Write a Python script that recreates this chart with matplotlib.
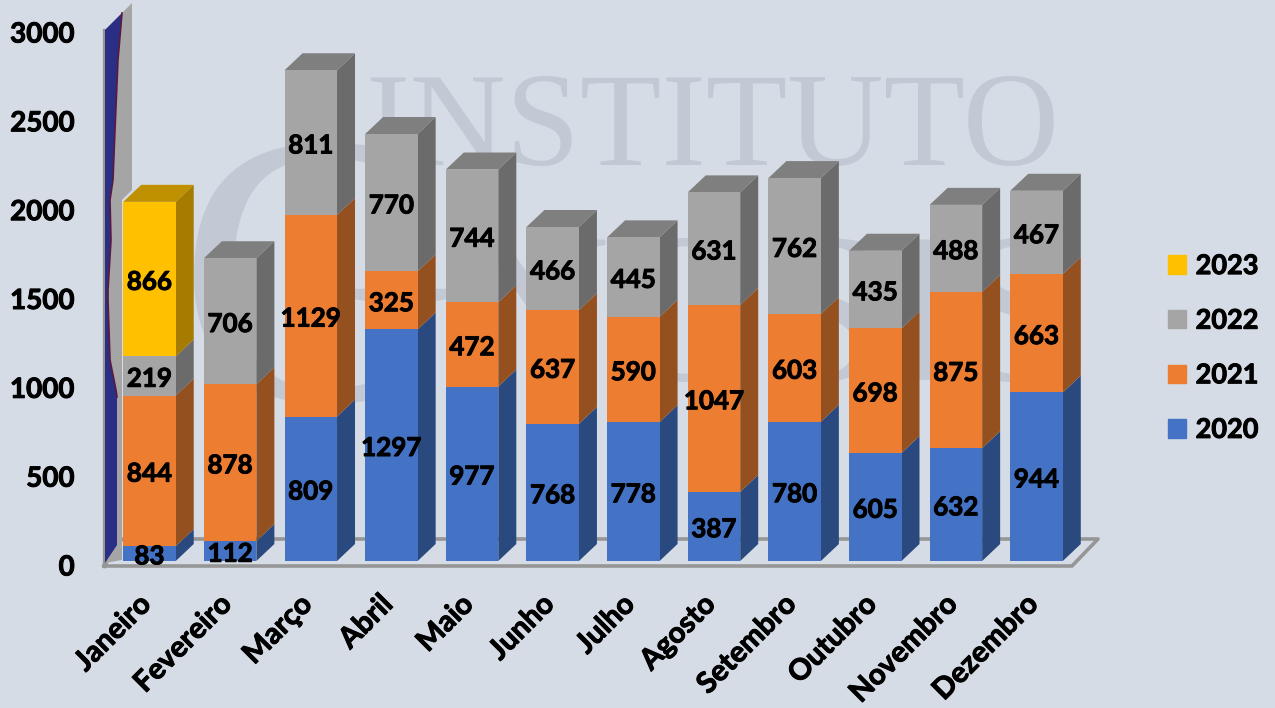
import numpy as np
import matplotlib
matplotlib.use("Agg")
import matplotlib.pyplot as plt
import matplotlib.patheffects as pe
from matplotlib.patches import Polygon, Patch
from matplotlib.transforms import Affine2D, ScaledTranslation

months = ["Janeiro","Fevereiro","Março","Abril","Maio","Junho","Julho","Agosto","Setembro","Outubro","Novembro","Dezembro"]
v2020 = [83,112,809,1297,977,768,778,387,780,605,632,944]
v2021 = [844,878,1129,325,472,637,590,1047,603,698,875,663]
v2022 = [219,706,811,770,744,466,445,631,762,435,488,467]
v2023 = [866,0,0,0,0,0,0,0,0,0,0,0]
series = [("2020",v2020),("2021",v2021),("2022",v2022),("2023",v2023)]
front = {"2020":"#4472c4","2021":"#ed7d31","2022":"#a5a5a5","2023":"#ffc000"}
side = {"2020":"#2a4a7f","2021":"#95501f","2022":"#6b6b6b","2023":"#a67c00"}
top = {"2020":"#365c9e","2021":"#be6427","2022":"#7f7f7f","2023":"#bf9000"}
yticks = [0,500,1000,1500,2000,2500,3000]

W,H = 1275,708
BG = "#d6dce5"
FONT = "Lato"
plt.rcParams["font.family"] = [FONT,"DejaVu Sans"]
plt.rcParams["font.weight"] = "bold"
fig = plt.figure(figsize=(W/100,H/100),dpi=100,facecolor=BG)
px = Affine2D().scale(1/W,-1/H).translate(0,1)+fig.transFigure
heavy = [pe.withStroke(linewidth=0.7,foreground="black")]

def rect(l,r,t,b):
    return [l/W,1-b/H,(r-l)/W,(b-t)/H]

# watermark behind everything
wm = "#c3c9d4"
fig.text(712/W,1-165/H,"INSTITUTO",color=wm,fontsize=96,family="Liberation Serif",weight="normal",ha="center",va="baseline",zorder=-2)
fig.text(178/W,1-400/H,"G",color=wm,fontsize=280,family="Liberation Serif",weight="normal",ha="left",va="baseline",zorder=-2)
fig.text(455/W,1-380/H,"NOSIS",color=wm,fontsize=155,family="Liberation Serif",weight="normal",ha="left",va="baseline",zorder=-2)

ax = fig.add_axes(rect(104,1075,31,566))
ax.set_zorder(2)
ax.patch.set_alpha(0)
ax.set_xlim(-0.564,11.477)
ax.set_ylim(-28,2969)
for s in ax.spines.values():
    s.set_visible(False)

# floor and wall
grey = "#969696"
fig.add_artist(plt.Line2D([104,1072,1098,122,104],[566,566,539,539,566],transform=px,color=grey,lw=2.6,zorder=1))
fig.add_artist(plt.Line2D([104,104],[566,30],transform=px,color=grey,lw=2.4,zorder=1))
ax.add_patch(Polygon([(105,30),(122,13),(132,3),(132,190),(122,200),(122,560),(105,563)],transform=px,fc="#a5a5a5",ec="none",clip_on=False,zorder=1))
edge = [(122,13),(118,60),(115,130),(113,180),(110,200),(111,240),(108,290),(108,300),(110,360),(116,390),(117,397),(117,545),(105,563)]
ax.add_patch(Polygon([(105,30)]+edge,transform=px,fc="#2b2e85",ec="none",clip_on=False,zorder=1.1))
ax.add_line(plt.Line2D(*zip(*edge[:11]),transform=px,color="#5a1a40",lw=1.2,zorder=1.2,clip_on=False))

x = np.arange(len(months))
w = 52.5/80.64
dx,dy = 18/80.64,17/0.1785
bottom = np.zeros(len(months))
totals = np.sum([v for _,v in series],axis=0)
handles = []
for name,vals in series:
    vals = np.array(vals,float)
    show = vals>0
    ax.bar(x[show],vals[show],w,bottom=bottom[show],color=front[name],zorder=3,clip_on=False)
    for i in x[show]:
        l,r = i-w/2,i+w/2
        b,t = bottom[i],bottom[i]+vals[i]
        ax.add_patch(Polygon([(r,b),(r+dx,b+dy),(r+dx,t+dy),(r,t)],fc=side[name],ec="none",zorder=2.5,clip_on=False))
        if t==totals[i]:
            ax.add_patch(Polygon([(l,t),(l+dx,t+dy),(r+dx,t+dy),(r,t)],fc=top[name],ec="none",zorder=2.5,clip_on=False))
        ax.annotate(str(int(vals[i])),(i,b+vals[i]/2),xytext=(0,-2),textcoords="offset points",ha="center",va="center",fontsize=18.7,color="black",zorder=5,annotation_clip=False,path_effects=heavy)
    bottom = bottom+vals
    handles.append(Patch(color=front[name],label=name))

ax.set_yticks([])
ax.set_xticks(x,months,rotation=45,ha="right",rotation_mode="anchor",fontsize=21,color="black")
ax.tick_params(axis="x",length=0,pad=18)
for lab in ax.get_xticklabels():
    lab.set_transform(lab.get_transform()+ScaledTranslation(-0.12,0,fig.dpi_scale_trans))
    lab.set_path_effects(heavy)

ax2 = fig.add_axes(rect(104,1075,32,565))
ax2.set_zorder(3)
ax2.patch.set_alpha(0)
ax2.set_ylim(0,3000)
ax2.set_xticks([])
for s in ax2.spines.values():
    s.set_visible(False)
ax2.set_yticks(yticks,[str(t) for t in yticks],fontsize=20,color="black")
ax2.tick_params(axis="y",length=0,pad=21)
for lab in ax2.get_yticklabels():
    lab.set_path_effects(heavy)

leg = fig.legend(handles=handles[::-1],loc="center left",bbox_to_anchor=(1168/W,1-348/H),frameon=False,fontsize=19.5,
           handlelength=0.67,handleheight=0.67,handletextpad=0.35,labelspacing=1.13,borderpad=0,borderaxespad=0)
leg.set_zorder(4)
for t in leg.get_texts():
    t.set_path_effects(heavy)
fig.savefig("out.png",dpi=100,facecolor=BG)
